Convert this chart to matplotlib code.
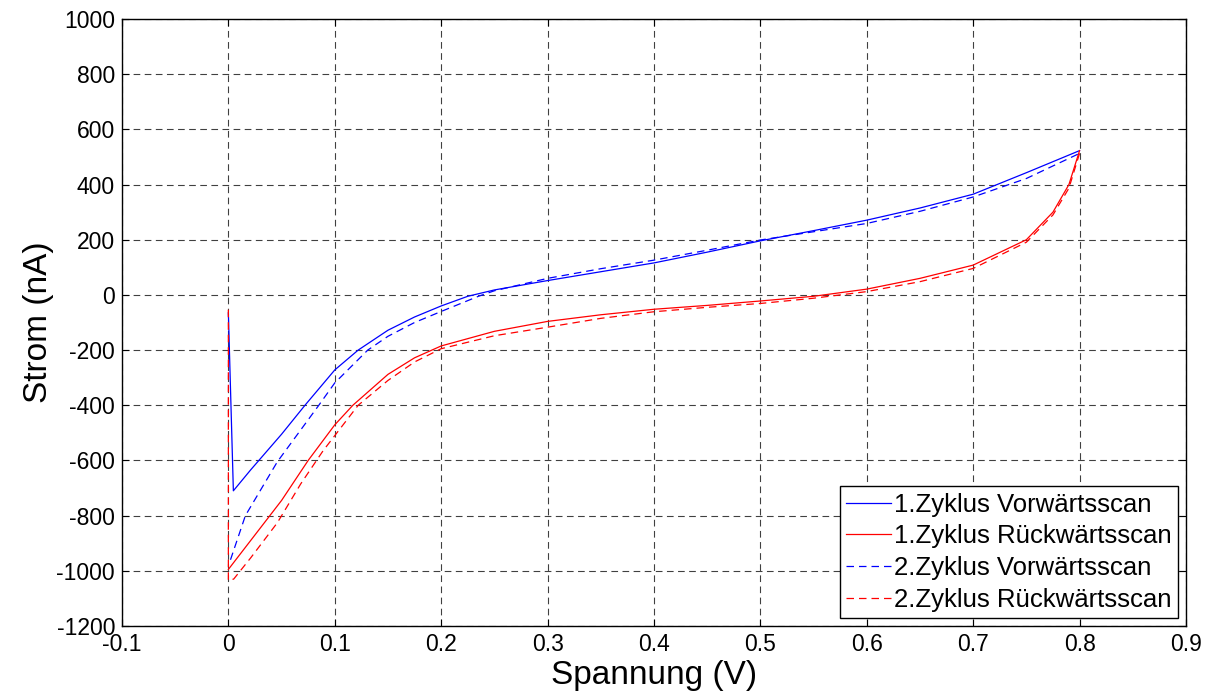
import matplotlib
matplotlib.use("Agg")
import matplotlib.pyplot as plt
import numpy as np

plt.rcParams['font.family'] = ['Liberation Sans', 'DejaVu Sans']
plt.rcParams['axes.unicode_minus'] = False

# 1. Zyklus Vorwärtsscan (blue solid)
v1f = [0.0, 0.0047, 0.021, 0.05, 0.072, 0.1, 0.122, 0.15, 0.175, 0.2, 0.225, 0.25, 0.3, 0.35,
       0.4, 0.45, 0.5, 0.55, 0.6, 0.65, 0.7, 0.75, 0.8]
i1f = [-65, -710, -634, -505, -400, -272, -200, -128, -80, -40, -5, 18, 52, 84,
       116, 155, 196, 233, 271, 315, 365, 443, 523]

# 1. Zyklus Rückwärtsscan (red solid)
v1b = [0.8, 0.79, 0.775, 0.75, 0.7, 0.65, 0.6, 0.55, 0.5, 0.45, 0.4, 0.35, 0.3, 0.25,
       0.2, 0.175, 0.15, 0.117, 0.1, 0.075, 0.05, 0.039, 0.025, 0.0]
i1b = [523, 400, 300, 200, 108, 60, 21, -5, -22, -38, -52, -72, -96, -132,
       -185, -228, -288, -400, -471, -600, -745, -800, -870, -995]

# 2. Zyklus Vorwärtsscan (blue dashed)
v2f = [0.002, 0.016, 0.046, 0.085, 0.1, 0.131, 0.15, 0.175, 0.2, 0.235, 0.25, 0.3, 0.35,
       0.4, 0.45, 0.5, 0.55, 0.6, 0.65, 0.7, 0.75, 0.8]
i2f = [-960, -800, -605, -400, -319, -200, -150, -100, -60, -5, 15, 60, 95,
       126, 162, 199, 229, 259, 303, 355, 422, 513]

# 2. Zyklus Rückwärtsscan (red dashed)
v2b = [0.8, 0.79, 0.775, 0.75, 0.7, 0.65, 0.6, 0.55, 0.5, 0.45, 0.4, 0.35, 0.3, 0.25,
       0.2, 0.175, 0.15, 0.122, 0.1, 0.089, 0.068, 0.046, 0.021, 0.005, 0.0, 0.0]
i2b = [513, 387, 290, 191, 96, 48, 12, -12, -31, -45, -61, -85, -117, -148,
       -195, -243, -310, -400, -510, -565, -685, -826, -953, -1030, -1035, -40]

labels = ['1.Zyklus Vorwärtsscan', '1.Zyklus Rückwärtsscan',
          '2.Zyklus Vorwärtsscan', '2.Zyklus Rückwärtsscan']

xticks = np.round(np.arange(-0.1, 0.91, 0.1), 1)
yticks = np.arange(-1200, 1001, 200)
xticklabels = ['-0.1', '0', '0.1', '0.2', '0.3', '0.4', '0.5', '0.6', '0.7', '0.8', '0.9']

fig = plt.figure(figsize=(12.16, 6.97), dpi=100)
ax = fig.add_axes([0.1003, 0.1019, 0.875, 0.8708])

lw = 0.9
ax.plot(v1f, i1f, color=(0, 0, 1), lw=lw, label=labels[0])
ax.plot(v1b, i1b, color=(1, 0, 0), lw=lw, label=labels[1])
ax.plot(v2f, i2f, color=(0, 0, 1), lw=lw, ls=(0, (6, 4)), label=labels[2])
ax.plot(v2b, i2b, color=(1, 0, 0), lw=lw, ls=(0, (6, 4)), label=labels[3])

ax.set_xlim(-0.1, 0.9)
ax.set_ylim(-1200, 1000)
ax.set_xticks(xticks)
ax.set_xticklabels(xticklabels)
ax.set_yticks(yticks)
ax.grid(True, color='black', ls=(0, (6, 4)), lw=0.8, alpha=0.75)
ax.set_axisbelow(True)
ax.tick_params(direction='in', length=5, width=0.8, top=True, right=True,
               labelsize=16.5, pad=5, colors='black')
for s in ax.spines.values():
    s.set_linewidth(1.0)
    s.set_color('black')

ax.set_xlabel('Spannung (V)', fontsize=24, labelpad=3)
ax.set_ylabel('Strom (nA)', fontsize=24, labelpad=2)

leg = ax.legend(loc='lower right', fontsize=18.5, frameon=True, fancybox=False,
                edgecolor='black', framealpha=1, handlelength=1.75, handletextpad=0.12,
                borderpad=0.25, labelspacing=0.3, borderaxespad=0.3)
leg.get_frame().set_linewidth(1.0)

fig.savefig('out.png', dpi=100)
